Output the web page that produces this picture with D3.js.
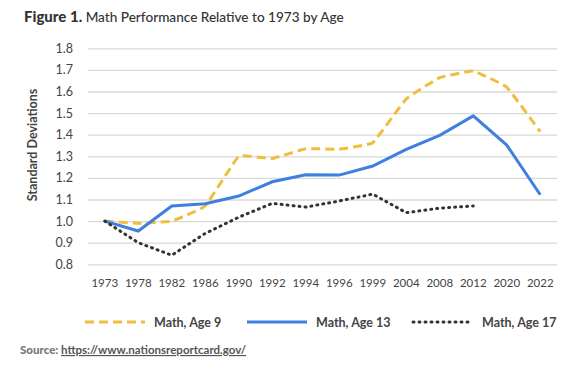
<!DOCTYPE html>
<html>
<head>
<meta charset="utf-8">
<script src="https://cdn.jsdelivr.net/npm/d3@7"></script>
<style>
body { margin: 0; background: #fff; }
svg { font-family: "Lato", "Open Sans", sans-serif; }
</style>
</head>
<body>
<svg id="chart" width="575" height="383"></svg>
<script>
var years = ['1973','1978','1982','1986','1990','1992','1994','1996','1999','2004','2008','2012','2020','2022'];
var age9 = [1.00, 0.99, 1.00, 1.07, 1.30, 1.29, 1.335, 1.333, 1.363, 1.566, 1.664, 1.695, 1.62, 1.414];
var age13 = [1.00, 0.954, 1.07, 1.08, 1.116, 1.182, 1.215, 1.213, 1.255, 1.332, 1.397, 1.487, 1.352, 1.122];
var age17 = [1.00, 0.90, 0.842, 0.943, 1.018, 1.082, 1.065, 1.093, 1.125, 1.039, 1.06, 1.07, null, null];
var yTicks = [0.8, 0.9, 1.0, 1.1, 1.2, 1.3, 1.4, 1.5, 1.6, 1.7, 1.8];

var series = [
	{name: 'Math, Age 9', values: age9, color: '#F0BE3E', dash: '9,5', width: 3, curve: d3.curveCardinal.tension(0.75)},
	{name: 'Math, Age 13', values: age13, color: '#3F7FDF', dash: null, width: 3, curve: d3.curveLinear},
	{name: 'Math, Age 17', values: age17, color: '#333333', dash: '1,5', width: 3, curve: d3.curveLinear}
];

var svg = d3.select('#chart');

var x = d3.scaleBand().domain(years).range([88, 557]);
var y = d3.scaleLinear().domain([0.8, 1.8]).range([264.3, 48.3]);

// title
var title = svg.append('text').attr('x', 24).attr('y', 22)
				.style('fill', '#333');
title.append('tspan').text('Figure 1.').style('font-weight', '900').style('font-size', '15px');
title.append('tspan').text(' Math Performance Relative to 1973 by Age').style('font-size', '13.6px')
	.style('font-weight', '500');

// gridlines
svg.append('g')
	.attr('transform', 'translate(88,0)')
	.call(d3.axisLeft(y).tickValues(yTicks).tickSize(-469).tickFormat(''))
	.call(function(g) {
		g.select('.domain').remove();
		g.selectAll('line').style('stroke', '#d9d9d9').style('stroke-width', 1.3);
	});

// y labels
svg.append('g')
	.attr('transform', 'translate(76,0)')
	.call(d3.axisLeft(y).tickValues(yTicks).tickSize(0).tickFormat(d3.format('.1f')))
	.call(function(g) {
		g.select('.domain').remove();
		g.selectAll('text').style('font-size', '12.5px').style('fill', '#444')
			.style('font-family', 'Lato, sans-serif');
	});

// x labels
svg.append('g')
	.attr('transform', 'translate(0,276)')
	.call(d3.axisBottom(x).tickSize(0))
	.call(function(g) {
		g.select('.domain').remove();
		g.selectAll('text').style('font-size', '11.5px').style('fill', '#444')
			.style('font-family', 'Lato, sans-serif');
	});

svg.append('text')
	.attr('transform', 'translate(37,145) rotate(-90)')
	.attr('text-anchor', 'middle')
	.style('font-size', '12.5px').style('font-weight', '700').style('fill', '#444')
	.text('Standard Deviations');

// lines
series.forEach(function(s) {
	var line = d3.line()
				.defined(function(d) { return d != null; })
				.x(function(d, i) { return x(years[i]) + x.bandwidth() / 2; })
				.y(function(d) { return y(d); })
				.curve(s.curve);
	svg.append('path')
		.datum(s.values)
		.attr('d', line)
		.style('fill', 'none')
		.style('stroke', s.color)
		.style('stroke-width', s.width)
		.style('stroke-dasharray', s.dash)
		.style('stroke-linecap', s.dash == '1,5' ? 'round' : 'butt');
});

// legend
var legX = [85, 247, 413];
series.forEach(function(s, i) {
	var g = svg.append('g').attr('transform', 'translate(' + legX[i] + ',322)');
	g.append('line').attr('x1', 0).attr('x2', 60).attr('y1', 0).attr('y2', 0)
		.style('stroke', s.color).style('stroke-width', s.width)
		.style('stroke-dasharray', s.dash)
		.style('stroke-linecap', s.dash == '1,5' ? 'round' : 'butt');
	g.append('text').attr('x', 69).attr('y', 4.5)
		.style('font-size', '12.5px').style('font-weight', '700').style('fill', '#444')
		.text(s.name);
});

// source
var src = svg.append('text').attr('x', 20).attr('y', 354).style('font-size', '11.5px').style('font-weight', '700');
src.append('tspan').text('Source: ').style('fill', '#777').style('font-weight', '900');
src.append('tspan').text('https://www.nationsreportcard.gov/').style('fill', '#555')
	.style('text-decoration', 'underline');
</script>
</body>
</html>
